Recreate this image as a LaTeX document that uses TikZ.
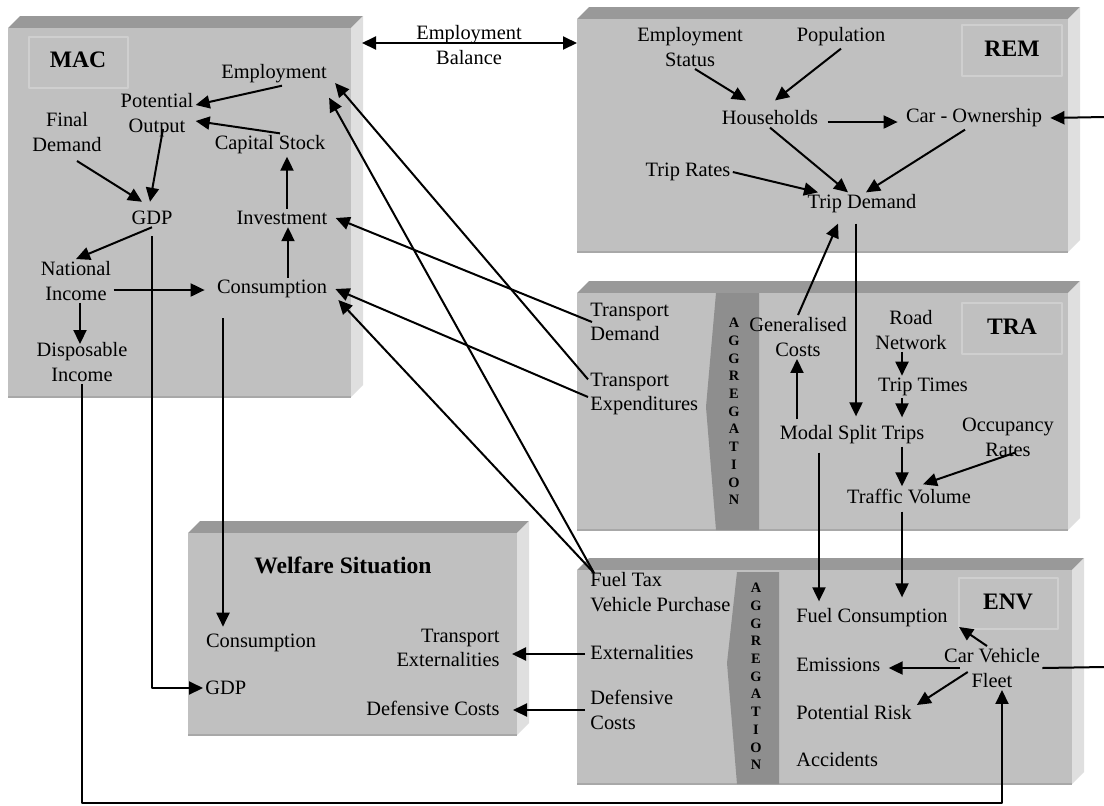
\documentclass[tikz,border=0pt]{standalone}
\usepackage{fontspec}
\setmainfont{Liberation Serif}
\usetikzlibrary{arrows.meta}
\definecolor{ink}{HTML}{000000}
\definecolor{slabfront}{HTML}{C0C0C0}
\definecolor{slabtop}{HTML}{999999}
\definecolor{slabside}{HTML}{DFDFDF}
\definecolor{slabedge}{HTML}{A8A8A8}
\definecolor{aggfill}{HTML}{8E8E8E}
\definecolor{tagedge}{HTML}{CFCFCF}
\newcommand{\figfontsize}{\fontsize{10.2}{12.4}\selectfont}
\newcommand{\headfontsize}{\fontsize{11.8}{14}\selectfont}
\newcommand{\aggfontsize}{\fontsize{7.2}{8.85}\selectfont}
\newcommand{\aggword}{A\\G\\G\\R\\E\\G\\A\\T\\I\\O\\N}
\tikzset{
  every picture/.style = {font=\figfontsize, line join=round},
  item/.style          = {inner sep=1pt, align=center, text=ink},
  head/.style          = {inner sep=1pt, font=\headfontsize\bfseries, text=ink},
  aggtext/.style       = {inner sep=0pt, align=center, font=\aggfontsize\bfseries, text=ink},
  link/.style          = {line width=1pt, ink, -{Triangle[length=7pt, width=6.5pt]}},
  wire/.style          = {line width=1pt, ink},
  tag/.style           = {fill=slabfront, draw=tagedge, line width=0.8pt},
}
% a raised slab: left, top, right, bottom of its front face
\newcommand{\slabbox}[4]{%
  \fill[slabtop]   (#1,#2) -- ({#1+12},{#2-12}) -- ({#3+12},{#2-12}) -- (#3,#2) -- cycle;
  \fill[slabside]  (#3,#2) -- ({#3+12},{#2-12}) -- ({#3+12},{#4-12}) -- (#3,#4) -- cycle;
  \fill[slabfront] (#1,#2) rectangle (#3,#4);
  \draw[slabedge, line width=0.8pt] (#1,#4) -- (#3,#4);
}

\begin{document}
\begin{tikzpicture}[x=0.5pt, y=-0.5pt]
  \useasboundingbox (0,0) rectangle (1104,805);

  % the five slabs
  \slabbox{8}{28}{351}{397}
  \slabbox{577}{19}{1068}{252}
  \slabbox{577}{293}{1068}{530}
  \slabbox{577}{570}{1072}{784}
  \slabbox{188}{533}{517}{735}

  % aggregation bars
  \fill[aggfill] (716,293) -- (706,407) -- (716,530) -- (759,530) -- (759,293) -- cycle;
  \fill[aggfill] (737,572) -- (727,663) -- (737,784) -- (779,784) -- (779,572) -- cycle;
  \node[aggtext] (aggtra) at (734,411.5) {\aggword};
  \node[aggtext] (aggenv) at (756,676.5) {\aggword};

  % name tags
  \draw[tag] (29,37) rectangle (128,88);
  \draw[tag] (962,25) rectangle (1062,76);
  \draw[tag] (962,303) rectangle (1062,354);
  \draw[tag] (959,578) rectangle (1058,629);
  \node[head] (mac) at (78,60) {MAC};
  \node[head] (rem) at (1012,49) {REM};
  \node[head] (tra) at (1012,327) {TRA};
  \node[head] (env) at (1008,602) {ENV};
  \node[head] (welf) at (343,565) {Welfare Situation};

  % MAC
  \node[item] (empl)    at (274,74)  {Employment};
  \node[item] (potout)  at (157,115) {Potential\\Output};
  \node[item] (findem)  at (67,132)  {Final\\Demand};
  \node[item] (capst)   at (270,145) {Capital Stock};
  \node[item] (gdp)     at (152,218) {GDP};
  \node[item] (invest)  at (282,218) {Investment};
  \node[item] (natinc)  at (76,281)  {National\\Income};
  \node[item] (cons)    at (272,289) {Consumption};
  \node[item] (dispinc) at (82,362)  {Disposable\\Income};

  % REM
  \node[item] (empstat)  at (690,47)  {Employment\\Status};
  \node[item] (popul)    at (841,37)  {Population};
  \node[item] (househ)   at (770,118) {Households};
  \node[item] (carown)   at (974,118) {Car - Ownership};
  \node[item] (triprate) at (688,172) {Trip Rates};
  \node[item] (tripdem)  at (862,204) {Trip Demand};

  % TRA
  \node[item, anchor=west, align=left] (trdem) at (588,322) {Transport\\Demand};
  \node[item, anchor=west, align=left] (trexp) at (588,394) {Transport\\Expenditures};
  \node[item] (gencost)  at (798,337)  {Generalised\\Costs};
  \node[item] (roadnet)  at (911,330)  {Road\\Network};
  \node[item] (triptime) at (923,387)  {Trip Times};
  \node[item] (modal)    at (852,435)  {Modal Split Trips};
  \node[item] (occup)    at (1008,437) {Occupancy\\Rates};
  \node[item] (trafvol)  at (909,496)  {Traffic Volume};

  % ENV
  \node[item, anchor=west, align=left] (fueltax) at (588,592) {Fuel Tax\\Vehicle Purchase};
  \node[item, anchor=west] (extern) at (588,653) {Externalities};
  \node[item, anchor=west, align=left] (defcost) at (588,710) {Defensive\\Costs};
  \node[item] (fuelcons) at (872,618) {Fuel Consumption};
  \node[item, anchor=west] (emis)    at (794,665) {Emissions};
  \node[item] (fleet) at (992,668) {Car Vehicle\\Fleet};
  \node[item, anchor=west] (potrisk) at (794,713) {Potential Risk};
  \node[item, anchor=west] (accid)   at (794,760) {Accidents};

  % welfare
  \node[item] (wcons) at (261,643) {Consumption};
  \node[item, anchor=west] (wgdp) at (203,688) {GDP};
  \node[item, anchor=east, align=right] (wext) at (502,648) {Transport\\Externalities};
  \node[item, anchor=east] (wdef) at (502,708) {Defensive Costs};

  % free ends
  \coordinate (balL) at (362,43);
  \coordinate (balR) at (577,43);
  \coordinate (carin) at (1104,117);
  \coordinate (fleetout) at (1104,667);
  \coordinate (loop) at (82,803);

  \node[item] (balance) at (469,45) {Employment\\Balance};
  \draw[line width=1pt, ink, {Triangle[length=7pt, width=6.5pt]}-{Triangle[length=7pt, width=6.5pt]}] (balL) -- (balR);

  % inside MAC
  \draw[link] ([xshift=4pt]empl.south) -- ([yshift=5pt]potout.east);
  \draw[link] ([xshift=5pt]capst.north) -- ([yshift=-3pt]potout.east);
  \draw[link] ([xshift=3pt,yshift=5pt]potout.south) -- ([xshift=-1pt,yshift=3.5pt]gdp.north);
  \draw[link] ([xshift=5pt,yshift=-3.5pt]findem.south) -- ([xshift=-5pt,yshift=3.5pt]gdp.north);
  \draw[link] ([xshift=2.5pt]invest.north) -- ([xshift=8.5pt]capst.south);
  \draw[link] ([xshift=8pt]cons.north) -- ([xshift=3pt]invest.south);
  \draw[link] (gdp.south) -- (natinc.north);
  \draw[link] ([yshift=-4.5pt]natinc.east) -- ([xshift=-5pt,yshift=-0.5pt]cons.west);
  \draw[link] ([xshift=2pt]natinc.south) -- ([xshift=-1pt,yshift=-2pt]dispinc.north);

  % inside REM
  \draw[link] ([xshift=2.5pt]empstat.south) -- ([xshift=-12pt,yshift=4pt]househ.north);
  \draw[link] (popul.south) -- ([xshift=2.5pt,yshift=4pt]househ.north);
  \draw[link] ([xshift=3.5pt,yshift=-2pt]househ.east) -- ([xshift=-3pt,yshift=-2pt]carown.west);
  \draw[link] (carin) -- ([xshift=3pt]carown.east);
  \draw[link] (househ.south) -- ([xshift=-7pt]tripdem.north);
  \draw[link] ([xshift=-4.5pt]carown.south) -- ([xshift=2pt]tripdem.north);
  \draw[link] (triprate.east) -- ([xshift=-22pt]tripdem.north);

  % REM and TRA
  \draw[link] (gencost.north) -- ([xshift=-12pt,yshift=-4pt]tripdem.south);
  \draw[link] ([xshift=-3pt,yshift=-4pt]tripdem.south) -- ([xshift=2pt,yshift=3.5pt]modal.north);
  \draw[link] ([xshift=-27.5pt,yshift=2pt]modal.north) -- ([xshift=-0.5pt]gencost.south);
  \draw[link] ([xshift=-4.5pt]roadnet.south) -- ([xshift=-10.5pt]triptime.north);
  \draw[link] ([xshift=-10.5pt]triptime.south) -- ([xshift=25pt,yshift=3pt]modal.north);
  \draw[link] ([xshift=25pt]modal.south) -- ([xshift=-3.5pt]trafvol.north);
  \draw[link] ([xshift=3.5pt,yshift=3pt]occup.south) -- ([xshift=7pt,yshift=1pt]trafvol.north);

  % TRA and ENV
  \draw[link] ([xshift=-16.5pt,yshift=-3pt]modal.south) -- ([xshift=-26.5pt,yshift=2.5pt]fuelcons.north);
  \draw[link] ([xshift=-3.5pt,yshift=-3pt]trafvol.south) -- ([xshift=15pt,yshift=4.5pt]fuelcons.north);
  \draw[link] ([xshift=-2.5pt]fleet.north) -- ([xshift=4.5pt,yshift=-4.5pt]fuelcons.east);
  \draw[link] ([xshift=9pt]fleet.west) -- ([xshift=3pt,yshift=-1.5pt]emis.east);
  \draw[link] ([xshift=13pt,yshift=-2pt]fleet.west) -- ([xshift=1.5pt,yshift=4pt]potrisk.east);
  \draw[wire] (fleet.east) -- (fleetout);
  \draw[link] (dispinc.south) -- (loop) -| ([xshift=5pt]fleet.south);

  % back into MAC and on to the welfare slab
  \draw[link] ([yshift=-4.5pt]gdp.south) |- (wgdp.west);
  \draw[link] ([xshift=-24.5pt,yshift=-9pt]cons.south) -- ([xshift=-19pt,yshift=2.5pt]wcons.north);
  \draw[link] ([xshift=2pt]trdem.west) -- ([xshift=3pt]invest.east);
  \draw[link] ([yshift=-4.5pt]trexp.north west) -- ([xshift=3pt,yshift=-4.5pt]empl.east);
  \draw[link] ([yshift=-1.5pt]trexp.west) -- ([xshift=3pt]cons.east);
  \draw[link] ([xshift=3pt,yshift=-1.5pt]fueltax.north west) -- ([yshift=-6pt]empl.south east);
  \draw[link] ([xshift=3pt,yshift=-1.5pt]fueltax.north west) -- ([xshift=4.5pt,yshift=-5.5pt]cons.east);
  \draw[link] ([xshift=-1.5pt,yshift=-0.5pt]extern.west) -- ([xshift=5pt,yshift=-3pt]wext.east);
  \draw[link] ([xshift=-1.5pt]defcost.west) -- ([xshift=5.5pt,yshift=-1pt]wdef.east);
\end{tikzpicture}
\end{document}
